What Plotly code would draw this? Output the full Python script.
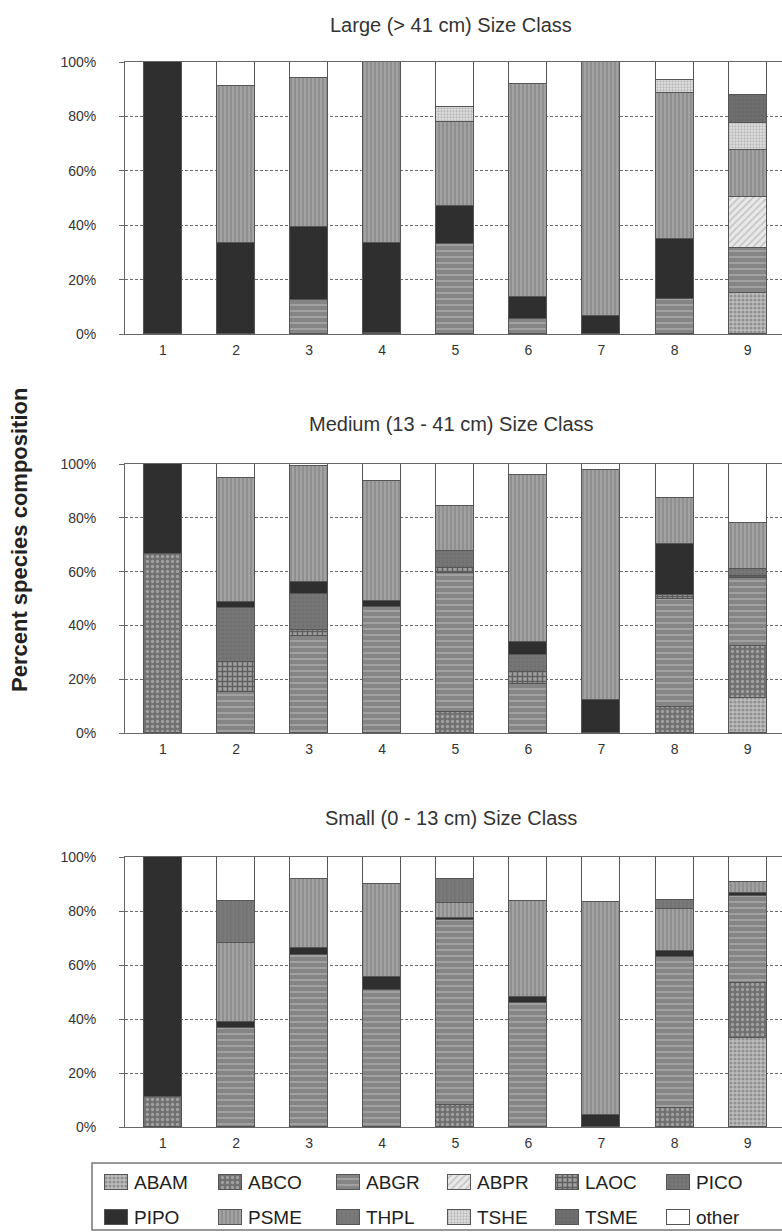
import plotly.graph_objects as go

# Plot categories (stand numbers)
stands = [1, 2, 3, 4, 5, 6, 7, 8, 9]
y_ticks = [0, 20, 40, 60, 80, 100]
y_tick_text = ["0%", "20%", "40%", "60%", "80%", "100%"]

species = ["ABAM", "ABCO", "ABGR", "ABPR", "LAOC", "PICO",
           "PIPO", "PSME", "THPL", "TSHE", "TSME", "other"]

# Large (> 41 cm) size class, percent of stems per stand
large_abam = [0, 0, 0, 0, 0, 0, 0, 0, 15]
large_abco = [0, 0, 0, 0, 0, 0, 0, 0, 0]
large_abgr = [0, 0, 12.5, 0.5, 33, 5.5, 0, 13, 16.5]
large_abpr = [0, 0, 0, 0, 0, 0, 0, 0, 19]
large_laoc = [0, 0, 0, 0, 0, 0, 0, 0, 0]
large_pico = [0, 0, 0, 0, 0, 0, 0, 0, 0]
large_pipo = [100, 33.5, 27, 33, 14, 8, 6.5, 22, 0]
large_psme = [0, 57.5, 54.5, 66.5, 31, 78.5, 93.5, 53.5, 17]
large_thpl = [0, 0, 0, 0, 0, 0, 0, 0, 0]
large_tshe = [0, 0, 0, 0, 5.5, 0, 0, 5, 10]
large_tsme = [0, 0, 0, 0, 0, 0, 0, 0, 10.5]
large_other = [0, 9, 6, 0, 16.5, 8, 0, 6.5, 12]

# Medium (13 - 41 cm) size class
medium_abam = [0, 0, 0, 0, 0, 0, 0, 0, 12.9]
medium_abco = [66.4, 0, 0, 0, 7.9, 0, 0, 9.7, 19.5]
medium_abgr = [0, 15.2, 36, 47, 51.5, 18.2, 0, 40.3, 25.1]
medium_abpr = [0, 0, 0, 0, 0, 0, 0, 0, 0]
medium_laoc = [0, 11.3, 2.3, 0, 1.9, 4.6, 0, 1.3, 1.0]
medium_pico = [0, 20.1, 13.5, 0, 6.2, 6.2, 0, 0, 2.4]
medium_pipo = [33.6, 2.2, 4.3, 2.2, 0, 5, 12.4, 18.9, 0]
medium_psme = [0, 46, 43.2, 44.4, 17, 62, 85.4, 17.3, 17.3]
medium_thpl = [0, 0, 0, 0, 0, 0, 0, 0, 0]
medium_tshe = [0, 0, 0, 0, 0, 0, 0, 0, 0]
medium_tsme = [0, 0, 0, 0, 0, 0, 0, 0, 0]
medium_other = [0, 5.2, 0.7, 6.4, 15.5, 4, 2.2, 12.5, 21.8]

# Small (0 - 13 cm) size class
small_abam = [0, 0, 0, 0, 0, 0, 0, 0, 32.9]
small_abco = [11, 0, 0, 0, 8.1, 0, 0, 7, 20.3]
small_abgr = [0, 36.6, 63.7, 50.7, 68.6, 46, 0, 56, 32.3]
small_abpr = [0, 0, 0, 0, 0, 0, 0, 0, 0]
small_laoc = [0, 0, 0, 0, 0, 0, 0, 0, 0]
small_pico = [0, 0, 0, 0, 0, 0, 0, 0, 0]
small_pipo = [89, 2.4, 2.5, 5, 0.6, 2.3, 4.5, 2.2, 1.3]
small_psme = [0, 29, 25.5, 34.3, 5.5, 35.4, 79, 15.4, 4.1]
small_thpl = [0, 15.7, 0, 0, 8.9, 0, 0, 3.4, 0]
small_tshe = [0, 0, 0, 0, 0, 0, 0, 0, 0]
small_tsme = [0, 0, 0, 0, 0, 0, 0, 0, 0]
small_other = [0, 16.3, 8.3, 10, 8.3, 16.3, 16.5, 16, 9.1]

panel_titles = ["Large (> 41 cm) Size Class",
                "Medium (13 - 41 cm) Size Class",
                "Small (0 - 13 cm) Size Class"]

panels = [
    [large_abam, large_abco, large_abgr, large_abpr, large_laoc, large_pico,
     large_pipo, large_psme, large_thpl, large_tshe, large_tsme, large_other],
    [medium_abam, medium_abco, medium_abgr, medium_abpr, medium_laoc, medium_pico,
     medium_pipo, medium_psme, medium_thpl, medium_tshe, medium_tsme, medium_other],
    [small_abam, small_abco, small_abgr, small_abpr, small_laoc, small_pico,
     small_pipo, small_psme, small_thpl, small_tshe, small_tsme, small_other],
]

# Greyscale fill patterns, one per species
patterns = {
    "ABAM": dict(shape=".", bgcolor="#bdbdbd", fgcolor="#666666", size=4, solidity=0.5),
    "ABCO": dict(shape=".", bgcolor="#707070", fgcolor="#d0d0d0", size=5, solidity=0.35),
    "ABGR": dict(shape="-", bgcolor="#858585", fgcolor="#c4c4c4", size=6, solidity=0.3),
    "ABPR": dict(shape="/", bgcolor="#e8e8e8", fgcolor="#9c9c9c", size=5, solidity=0.3),
    "LAOC": dict(shape="+", bgcolor="#a0a0a0", fgcolor="#1e1e1e", size=5, solidity=0.5),
    "PICO": dict(shape=".", bgcolor="#767676", fgcolor="#666666", size=4, solidity=0.3),
    "PIPO": dict(shape=""),
    "PSME": dict(shape="|", bgcolor="#a2a2a2", fgcolor="#737373", size=4, solidity=0.4),
    "THPL": dict(shape="|", bgcolor="#7a7a7a", fgcolor="#686868", size=4, solidity=0.3),
    "TSHE": dict(shape=".", bgcolor="#e0e0e0", fgcolor="#8e8e8e", size=3, solidity=0.45),
    "TSME": dict(shape="+", bgcolor="#707070", fgcolor="#585858", size=4, solidity=0.3),
    "other": dict(shape=""),
}
base_colors = {
    "ABAM": "#bdbdbd", "ABCO": "#707070", "ABGR": "#858585", "ABPR": "#e8e8e8",
    "LAOC": "#a0a0a0", "PICO": "#767676", "PIPO": "#2f2f2f", "PSME": "#a2a2a2",
    "THPL": "#7a7a7a", "TSHE": "#e0e0e0", "TSME": "#707070", "other": "#ffffff",
}
outline = dict(color="#555555", width=1)

# Page geometry in pixels
W, H = 782, 1232
plot_left = 125
# vertical extent (pixels from top) of each panel's plotting area
panel_px = [(62, 334), (464, 733), (857, 1127)]
title_px = [25, 424, 818]


def py(y_page):
    """Pixel row from the top -> paper fraction."""
    return 1 - y_page / H


fig = go.Figure()

for p, series in enumerate(panels):
    ax = "" if p == 0 else str(p + 1)
    for k, name in enumerate(species):
        vals = [v if v > 0 else None for v in series[k]]
        fig.add_trace(go.Bar(
            x=stands, y=vals, name=name,
            xaxis="x" + ax, yaxis="y" + ax,
            width=0.52,
            marker=dict(color=base_colors[name], pattern=patterns[name], line=outline),
            showlegend=False,
            hoverinfo="name+y",
        ))

# Key: swatches on a pixel-scaled overlay axis, labels as annotations
key_cols = [105, 219, 337, 448, 556, 667]   # swatch left edges
key_rows = [1175, 1210]                     # swatch top edges
swatch_w, swatch_h = 23, 15
key_annotations = []
for k, name in enumerate(species):
    col, row = k % 6, k // 6
    left, top = key_cols[col], key_rows[row]
    fig.add_trace(go.Bar(
        x=[left + swatch_w / 2], y=[swatch_h], base=[top], width=[swatch_w],
        xaxis="x4", yaxis="y4", name=name,
        marker=dict(color=base_colors[name], pattern=patterns[name], line=outline),
        showlegend=False, hoverinfo="name",
    ))
    key_annotations.append(dict(
        text=name, xref="x4", yref="y4",
        x=left + swatch_w + 4, y=top + swatch_h / 2,
        xanchor="left", yanchor="middle", showarrow=False,
        font=dict(size=19, color="#222222"),
    ))

layout = dict(
    width=W, height=H,
    margin=dict(l=0, r=0, t=0, b=0),
    paper_bgcolor="white", plot_bgcolor="rgba(0,0,0,0)",
    barmode="stack", bargap=0,
    font=dict(family="Liberation Sans, Arial, sans-serif", color="#333333"),
    showlegend=False,
)

for p, (top, bot) in enumerate(panel_px):
    ax = "" if p == 0 else str(p + 1)
    layout["xaxis" + ax] = dict(
        domain=[plot_left / W, 1.0],
        range=[0.48, 9.47],
        anchor="y" + ax,
        tickmode="array", tickvals=stands, ticktext=[str(s) for s in stands],
        tickfont=dict(size=14, color="#333333"),
        showgrid=False, zeroline=False,
        showline=True, linecolor="#666666", linewidth=1, mirror=True,
        ticks="", ticklabelstandoff=3, automargin=False,
        fixedrange=True,
    )
    layout["yaxis" + ax] = dict(
        domain=[py(bot), py(top)],
        range=[0, 100],
        anchor="x" + ax,
        tickmode="array", tickvals=y_ticks, ticktext=y_tick_text,
        tickfont=dict(size=14, color="#333333"),
        showgrid=True, gridcolor="#6a6a6a", gridwidth=1, griddash="3px,2px",
        zeroline=False,
        showline=True, linecolor="#666666", linewidth=1, mirror=True,
        ticks="outside", ticklen=5, tickcolor="#666666",
        ticklabelstandoff=20, automargin=False,
        fixedrange=True,
    )

layout["xaxis4"] = dict(domain=[0, 1], range=[0, W], anchor="y4",
                        visible=False, fixedrange=True, automargin=False)
layout["yaxis4"] = dict(domain=[0, 1], range=[H, 0], anchor="x4",
                        visible=False, fixedrange=True, automargin=False)

annotations = []
for p, ty in enumerate(title_px):
    annotations.append(dict(
        text=panel_titles[p], xref="paper", yref="paper",
        x=451 / W, y=py(ty), xanchor="center", yanchor="middle",
        showarrow=False, font=dict(size=20, color="#333333"),
    ))
annotations.append(dict(
    text="<b>Percent species composition</b>", xref="paper", yref="paper",
    x=19 / W, y=py(540), xanchor="center", yanchor="middle",
    textangle=-90, showarrow=False, font=dict(size=22, color="#222222"),
))
layout["annotations"] = annotations + key_annotations

# Key frame
layout["shapes"] = [dict(
    type="rect", xref="paper", yref="paper",
    x0=92 / W, x1=1.05, y0=py(1230), y1=py(1163),
    line=dict(color="#777777", width=1.5), fillcolor="rgba(0,0,0,0)",
    layer="below",
)]

fig.update_layout(**layout)
fig.write_html("out.html")
